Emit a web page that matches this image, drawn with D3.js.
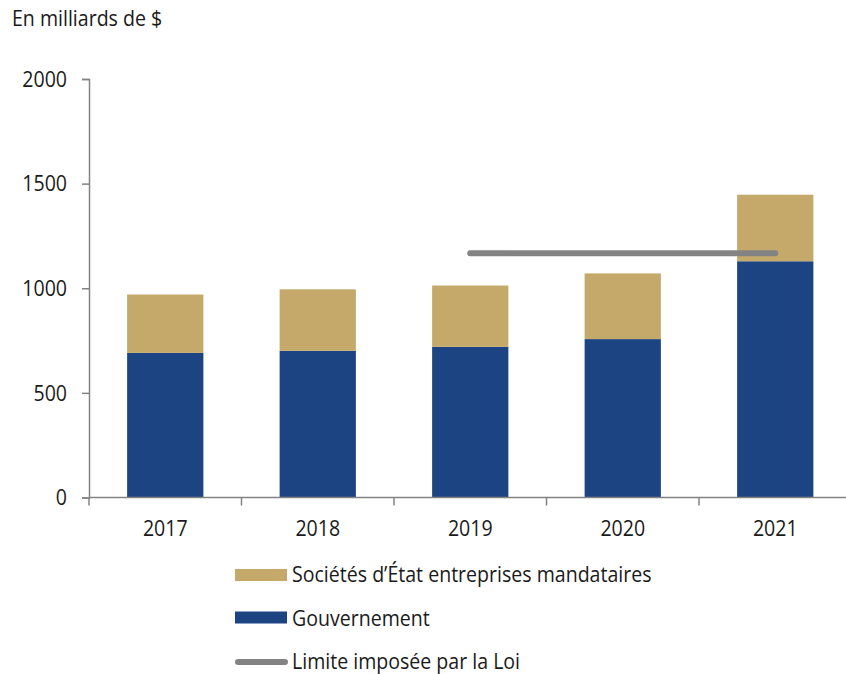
<!DOCTYPE html>
<html>
<head>
<meta charset="utf-8">
<script src="https://cdn.jsdelivr.net/npm/d3@7"></script>
<style>
  body { margin: 0; background: #fff; }
  text { font-family: "Segoe UI", "Open Sans", sans-serif; fill: #1a1a1a; font-size: 21.5px; }
</style>
</head>
<body>
<svg width="846" height="674"></svg>
<script>
// data (milliards de $)
var years = ['2017', '2018', '2019', '2020', '2021']
var gouvernement = [691, 701, 720, 757, 1129]
var societes = [279, 294, 293, 314, 318]
var limiteYears = ['2019', '2021']
var limiteValue = 1167
var yTicks = [0, 500, 1000, 1500, 2000]

var svg = d3.select('svg')
var margin = { top: 79, left: 89 }
var sx = 0.91 // the text in the source is a bit narrow

var xScale = d3.scaleBand()
    .domain(years)
    .range([margin.left, 851.5])
    .paddingInner(0.5)
    .paddingOuter(0.25)
var yScale = d3.scaleLinear()
    .domain([0, 2000])
    .range([497.5, margin.top])

var colGold = '#c4a96b'
var colBlue = '#1c4482'
var colGrey = '#838383'

function label(g, x, y, txt, anchor) {
    return g.append('text')
        .attr('transform', 'translate(' + x + ',' + y + ') scale(' + sx + ',1)')
        .attr('text-anchor', anchor || 'start')
        .text(txt)
}

// stacked bars
var table = years.map(function(y, i) {
    return { year: y, gouvernement: gouvernement[i], societes: societes[i] }
})
var stack = d3.stack().keys(['gouvernement', 'societes'])(table)
var colors = { gouvernement: colBlue, societes: colGold }

svg.append('g').selectAll('g')
    .data(stack)
    .enter()
    .append('g')
    .attr('fill', function(d) { return colors[d.key] })
    .selectAll('rect')
    .data(function(d) { return d })
    .enter()
    .append('rect')
    .attr('x', function(d) { return xScale(d.data.year) })
    .attr('width', xScale.bandwidth())
    .attr('y', function(d) { return yScale(d[1]) })
    .attr('height', function(d) { return yScale(d[0]) - yScale(d[1]) })

// y axis
var yAxis = d3.axisLeft(yScale).tickValues(yTicks).tickSize(7).tickFormat('')
var gy = svg.append('g')
    .attr('transform', 'translate(' + margin.left + ',0)')
    .call(yAxis)
gy.select('.domain').attr('stroke', colGrey).attr('stroke-width', 1.5)
gy.selectAll('.tick line').attr('stroke', colGrey).attr('stroke-width', 1.5)
yTicks.forEach(function(t) {
    label(svg, 67, yScale(t) + 7.8, d3.format('d')(t), 'end')
})

// x axis
var gx = svg.append('g')
    .attr('transform', 'translate(0,' + yScale(0) + ')')
gx.append('line')
    .attr('x1', margin.left).attr('x2', 846)
    .attr('stroke', colGrey).attr('stroke-width', 1.5)
gx.selectAll('.sep')
    .data(years)
    .enter()
    .append('line')
    .attr('x1', function(d) { return xScale(d) - xScale.bandwidth() / 2 })
    .attr('x2', function(d) { return xScale(d) - xScale.bandwidth() / 2 })
    .attr('y1', 0).attr('y2', 8)
    .attr('stroke', colGrey).attr('stroke-width', 1.5)
years.forEach(function(y) {
    label(svg, xScale(y) + xScale.bandwidth() / 2, 535.5, y, 'middle')
})

// limit line
svg.append('line')
    .attr('x1', xScale(limiteYears[0]) + xScale.bandwidth() / 2)
    .attr('x2', xScale(limiteYears[1]) + xScale.bandwidth() / 2)
    .attr('y1', yScale(limiteValue))
    .attr('y2', yScale(limiteValue))
    .attr('stroke', colGrey)
    .attr('stroke-width', 6)
    .attr('stroke-linecap', 'round')

// unit label
label(svg, 12, 25.7, 'En milliards de $')

// legend
var legend = svg.append('g')
var items = [
    { label: 'Sociétés d\u2019État entreprises mandataires', color: colGold, type: 'rect', y: 575, base: 582 },
    { label: 'Gouvernement', color: colBlue, type: 'rect', y: 617.5, base: 626 },
    { label: 'Limite imposée par la Loi', color: colGrey, type: 'line', y: 662, base: 669 }
]
items.forEach(function(it) {
    if (it.type === 'rect') {
        legend.append('rect')
            .attr('x', 235).attr('y', it.y - 6)
            .attr('width', 52).attr('height', 12)
            .attr('fill', it.color)
    } else {
        legend.append('line')
            .attr('x1', 238).attr('x2', 285)
            .attr('y1', it.y).attr('y2', it.y)
            .attr('stroke', it.color).attr('stroke-width', 6)
            .attr('stroke-linecap', 'round')
    }
    label(legend, 292, it.base, it.label)
})
</script>
</body>
</html>
